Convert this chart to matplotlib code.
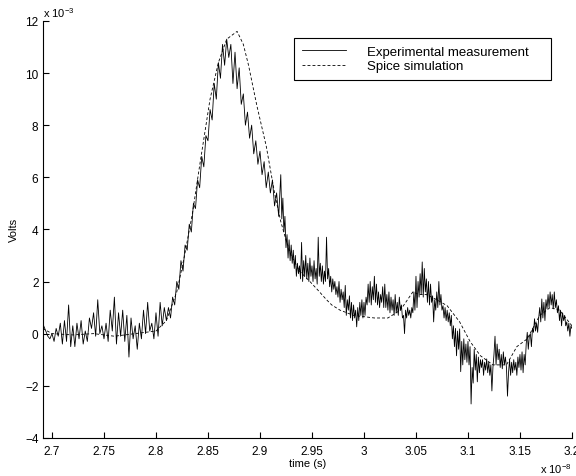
import numpy as np
import matplotlib
matplotlib.use('Agg')
import matplotlib.pyplot as plt

plt.rcParams['font.family'] = ['Liberation Sans', 'DejaVu Sans']
plt.rcParams['mathtext.default'] = 'regular'

# time in units of 1e-8 s, voltage in units of 1e-3 V
# experimental: coarse part, sampled every 0.002
exp_t0_coarse = 2.692
exp_dt_coarse = 0.002
exp_v_coarse = [
    0.3, 0.1, -0.1, -0.2, 0.0, -0.3, 0.2, -0.1, 0.4, -0.4,
    0.5, -0.3, 1.1, -0.5, 0.3, -0.5, 0.4, -0.2, 0.5, -0.4,
    0.1, -0.3, 0.6, 0.2, 0.8, -0.1, 1.3, 0.0, 0.3, -0.2,
    0.4, -0.3, 0.9, 0.1, 1.4, -0.4, 0.8, -0.1, 0.9, -0.3,
    0.7, -0.9, 0.6, -0.2, 0.3, -0.6, 0.4, -0.2, 0.9, 0.0,
    1.2, 0.1, 0.4, -0.2, 0.8, -0.1, 1.2, 0.3, 1.0, 0.5,
    1.0, 0.6, 1.4, 1.1, 2.0, 1.7, 2.8, 2.4, 3.4, 3.2,
    4.2, 3.9, 5.0, 4.8, 5.9, 5.6, 6.8, 6.4, 7.6, 7.4,
    8.6, 8.2, 9.6, 9.0, 10.4, 9.8, 11.1, 10.3, 11.3, 10.6,
    11.1, 9.6, 10.8, 9.4, 10.2, 8.8, 9.2, 8.0, 8.5, 7.5,
    8.0, 6.9, 7.4, 6.5, 7.0, 6.1, 6.6, 5.6, 6.2, 5.4,
    5.9, 4.9, 5.4, 4.5,
]
# experimental: dense part, sampled every 0.001
exp_t0_fine = 2.920
exp_dt_fine = 0.001
exp_v_fine = [
    6.1, 4.4, 5.2, 3.9, 4.5, 3.3, 3.8, 2.9, 3.6, 2.8,
    3.4, 2.7, 3.2, 2.5, 3.0, 2.2, 2.7, 2.3, 2.6, 2.1,
    3.5, 2.0, 2.8, 2.2, 3.0, 2.1, 2.7, 2.0, 2.9, 2.2,
    2.6, 2.0, 2.8, 2.1, 2.5, 1.9, 3.7, 2.2, 2.7, 2.0,
    2.6, 1.9, 2.4, 2.0, 3.7, 2.1, 2.5, 1.8, 2.2, 1.6,
    2.1, 1.7, 2.0, 1.5, 1.8, 1.4, 2.0, 1.2, 1.7, 1.3,
    1.6, 1.0, 1.85, 0.7, 1.3, 0.9, 1.45, 0.6, 1.2, 0.5,
    1.1, 0.6, 0.9, 0.26, 1.0, 0.5, 1.2, 0.7, 1.3, 0.6,
    1.2, 0.7, 1.4, 1.1, 1.9, 1.2, 2.0, 1.1, 1.8, 1.3,
    2.2, 1.2, 1.9, 1.1, 1.6, 1.0, 1.5, 1.2, 1.8, 1.0,
    1.9, 1.0, 1.5, 0.9, 1.6, 0.8, 1.4, 0.9, 1.3, 0.7,
    1.5, 0.8, 1.2, 0.7, 1.4, 0.9, 1.1, 0.6, 0.7, 0.0,
    0.9, 0.6, 1.0, 0.7, 0.9, 0.6, 1.0, 0.8, 1.6, 0.9,
    2.2, 1.0, 2.0, 1.4, 2.3, 1.5, 2.75, 1.4, 2.5, 1.6,
    2.1, 1.2, 2.0, 1.1, 1.9, 1.2, 1.45, 0.45, 1.3, 0.9,
    1.6, 1.0, 2.0, 1.1, 1.5, 0.9, 1.07, 0.6, 1.0, 0.5,
    0.9, 0.45, 0.8, 0.3, 0.7, -0.2, 0.3, -0.5, 0.2, -0.85,
    0.1, -0.6, 0.18, -1.46, -0.3, -1.2, -0.2, -1.0, -0.4, -1.1,
    -0.3, -1.2, -0.5, -2.7, -1.3, -1.9, -0.6, -1.4, -0.8, -1.85,
    -0.9, -1.5, -1.0, -1.3, -1.0, -1.6, -1.1, -1.4, -0.97, -1.5,
    -1.1, -1.6, -1.2, -2.2, -1.3, -0.8, -0.1, -1.2, -0.4, -1.0,
    -0.6, -1.3, -0.8, -1.35, -0.7, -1.2, -0.9, -1.3, -2.4, -1.5,
    -1.0, -1.6, -1.1, -1.5, -1.0, -1.4, -1.1, -1.6, -0.9, -1.3,
    -0.8, -1.4, -0.7, -1.5, -0.8, -1.2, -0.4, 0.05, -0.6, -0.1,
    0.0, -0.5, 0.2, 0.05, 0.57, 0.1, 0.4, 0.05, 0.6, 1.0,
    0.45, 1.33, 0.6, 1.2, 0.5, 1.3, 0.95, 1.5, 1.0, 1.6,
    1.1, 1.5, 0.95, 1.6, 1.0, 1.3, 0.8, 1.07, 0.5, 0.9,
    0.3, 0.8, 0.5, 0.7, 0.3, 0.45, 0.1, 0.4, -0.1, 0.3,
    0.2,
]

spice_t = [2.691, 2.70, 2.72, 2.74, 2.76, 2.78, 2.80, 2.81, 2.82, 2.827,
           2.835, 2.842, 2.852, 2.86, 2.868, 2.878, 2.884, 2.889, 2.897, 2.906,
           2.914, 2.92, 2.925, 2.93, 2.938, 2.948, 2.955, 2.964, 2.969, 2.977,
           2.99, 3.0, 3.01, 3.023, 3.035, 3.047, 3.053, 3.06, 3.07, 3.08,
           3.092, 3.102, 3.112, 3.124, 3.137, 3.147, 3.157, 3.169, 3.179, 3.188,
           3.2]
spice_v = [0.2, 0.0, -0.05, 0.0, -0.1, 0.0, 0.1, 0.5, 1.6, 2.9,
           4.6, 6.45, 9.0, 10.4, 11.3, 11.6, 11.1, 10.3, 8.75, 7.2,
           5.4, 4.3, 3.6, 3.0, 2.4, 2.0, 1.7, 1.3, 1.1, 0.9,
           0.7, 0.65, 0.6, 0.6, 0.9, 1.6, 1.5, 1.5, 1.3, 1.07,
           0.45, -0.3, -0.85, -1.2, -1.2, -0.5, -0.2, 0.7, 1.0, 0.9,
           0.3]

exp_t = np.concatenate([exp_t0_coarse + exp_dt_coarse * np.arange(len(exp_v_coarse)),
                        exp_t0_fine + exp_dt_fine * np.arange(len(exp_v_fine))])
exp_v = np.concatenate([exp_v_coarse, exp_v_fine])

fig = plt.figure(figsize=(5.76, 4.77), dpi=100)
ax = fig.add_axes([0.074, 0.08, 0.919, 0.874])

ax.plot(exp_t, exp_v, color='black', linewidth=0.6, label='Experimental measurement')
ax.plot(spice_t, spice_v, color='black', linewidth=0.6, dashes=(3.5, 2.5),
        label='Spice simulation')

ax.set_xlim(2.691, 3.2)
ax.set_ylim(-4, 12)
ax.set_xticks([2.7, 2.75, 2.8, 2.85, 2.9, 2.95, 3.0, 3.05, 3.1, 3.15, 3.2])
ax.set_xticklabels(['2.7', '2.75', '2.8', '2.85', '2.9', '2.95', '3', '3.05', '3.1', '3.15', '3.2'])
ax.set_yticks([-4, -2, 0, 2, 4, 6, 8, 10, 12])
ax.set_yticklabels(['\u22124', '\u22122', '0', '2', '4', '6', '8', '10', '12'])
ax.tick_params(direction='in', length=4, width=0.8, labelsize=8.5)
ax.tick_params(axis='x', pad=5)
ax.tick_params(axis='y', pad=3)
ax.spines['top'].set_visible(False)
ax.spines['right'].set_visible(False)

ax.set_xlabel('time (s)', fontsize=8, labelpad=1)
ax.set_ylabel('Volts', fontsize=8, labelpad=4)
ax.text(0.0, 1.005, 'x 10$^{-3}$', transform=ax.transAxes, fontsize=8, va='bottom', ha='left')
ax.text(1.0, -0.055, 'x 10$^{-8}$', transform=ax.transAxes, fontsize=8, va='top', ha='right')

leg = ax.legend(loc='upper left', bbox_to_anchor=(0.463, 0.87, 0.51, 0.105), mode='expand',
                fontsize=9.5, frameon=True, fancybox=False, edgecolor='black', framealpha=1,
                handlelength=3.3, borderpad=0.6, labelspacing=0.15, handletextpad=1.6)
leg.get_frame().set_linewidth(0.8)

fig.savefig('out.png', dpi=100)
